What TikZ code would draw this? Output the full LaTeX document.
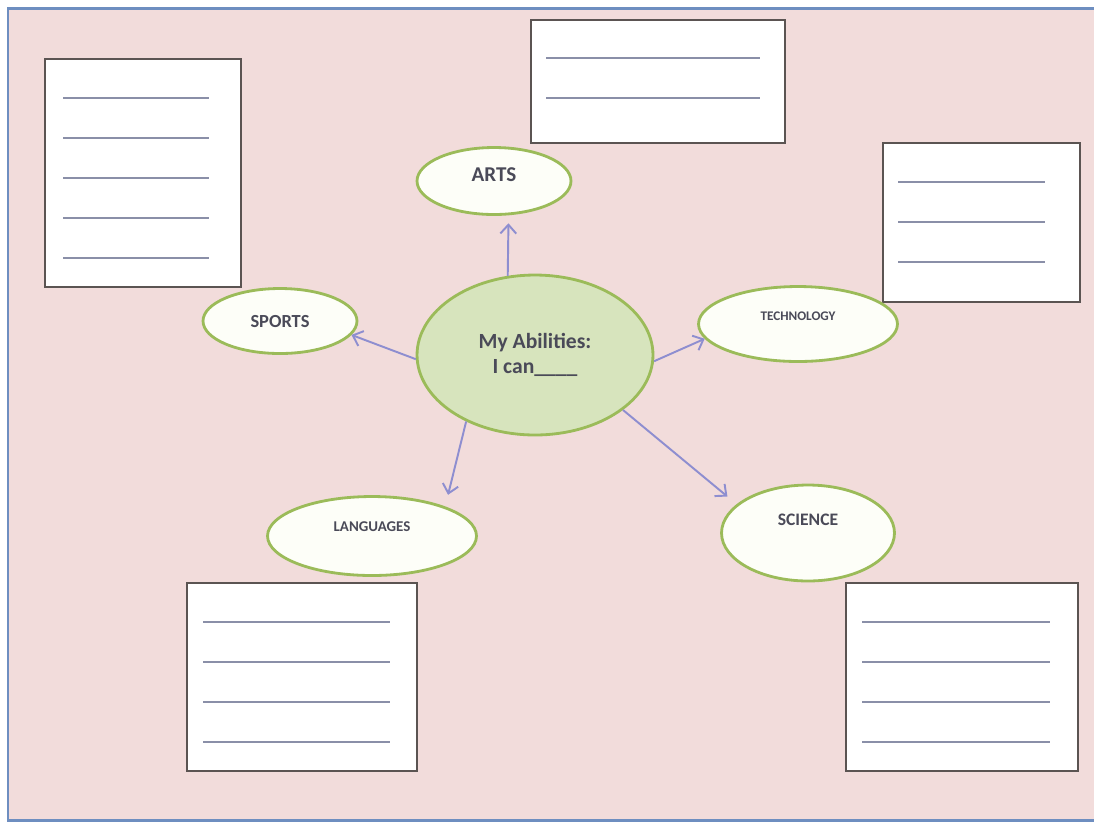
\documentclass[tikz,border=0pt]{standalone}
\usepackage{fontspec}
\setmainfont{Carlito}
\usetikzlibrary{shapes.geometric,arrows.meta}

\definecolor{pinkbg}{HTML}{F2DCDB}
\definecolor{frameblue}{HTML}{6E8EC0}
\definecolor{leafgreen}{HTML}{9BBB59}
\definecolor{centrefill}{HTML}{D7E4BD}
\definecolor{bubblefill}{HTML}{FDFEF8}
\definecolor{boxgray}{HTML}{5B5452}
\definecolor{rulegray}{HTML}{8A8FA8}
\definecolor{linkblue}{HTML}{8E8ED0}
\definecolor{labelgray}{HTML}{4A4A58}

\begin{document}
\begin{tikzpicture}[x=0.02cm, y=-0.02cm,
        bubble/.style={ellipse, draw=leafgreen, line width=1.6pt, fill=bubblefill, text=labelgray, inner sep=0pt},
        paper/.style={draw=boxgray, fill=white, line width=1.2pt},
        rule/.style={draw=rulegray, line width=1pt},
        link/.style={-{Straight Barb[length=5pt,width=9pt]}, draw=linkblue, line width=1.1pt}]
        \useasboundingbox (0,0) rectangle (1094,823);

        % background and frame
        \fill[pinkbg] (8,8) rectangle (1094,820);
        \draw[frameblue, line width=1.7pt] (1094,8) -- (8,8) -- (8,820) -- (1094,820);

        % answer boxes
        \draw[paper] (45,59) rectangle (241,287);
        \foreach \y in {98,138,...,258} \draw[rule] (63,\y) -- (209,\y);
        \draw[paper] (531,20) rectangle (785,143);
        \foreach \y in {58,98} \draw[rule] (546,\y) -- (760,\y);
        \draw[paper] (883,143) rectangle (1080,302);
        \foreach \y in {182,222,262} \draw[rule] (898,\y) -- (1045,\y);
        \draw[paper] (187,583) rectangle (417,771);
        \foreach \y in {622,662,...,742} \draw[rule] (203,\y) -- (390,\y);
        \draw[paper] (846,583) rectangle (1078,771);
        \foreach \y in {622,662,...,742} \draw[rule] (862,\y) -- (1050,\y);

        \node[bubble, fill=centrefill, minimum width=4.72cm, minimum height=3.2cm, align=center,
            font=\bfseries\fontsize{12.3}{14.2}\selectfont] (centre) at (535,355) {My Abilities:\\I can\_\_\_\_};
        \node[bubble, minimum width=3.08cm, minimum height=1.34cm, text depth=0.24cm,
            font=\bfseries\fontsize{12}{14}\selectfont] (arts) at (494,181) {ARTS};
        \node[bubble, minimum width=3.08cm, minimum height=1.3cm,
            font=\bfseries\fontsize{10.5}{12}\selectfont] (sports) at (280,321) {SPORTS};
        \node[bubble, minimum width=3.98cm, minimum height=1.5cm, text depth=0.32cm,
            font=\bfseries\fontsize{7.5}{9}\selectfont] (tech) at (798,324) {TECHNOLOGY};
        \node[bubble, minimum width=4.18cm, minimum height=1.58cm, text depth=0.36cm,
            font=\bfseries\fontsize{8.5}{10}\selectfont] (langs) at (372,536) {LANGUAGES};
        \node[bubble, minimum width=3.46cm, minimum height=1.92cm, text depth=0.52cm,
            font=\bfseries\fontsize{10}{12}\selectfont] (science) at (808,533) {SCIENCE};

        \draw[link, shorten >=0.16cm] (centre.109) -- (arts.-67);
        \draw[link] (centre.182) -- (sports.-11);
        \draw[link] (centre.-3) -- (tech.189);
        \draw[link, shorten >=0.24cm] (centre.224) -- (langs.22);
        \draw[link, shorten >=0.24cm] (centre.-32) -- (science.158);
    \end{tikzpicture}
\end{document}
